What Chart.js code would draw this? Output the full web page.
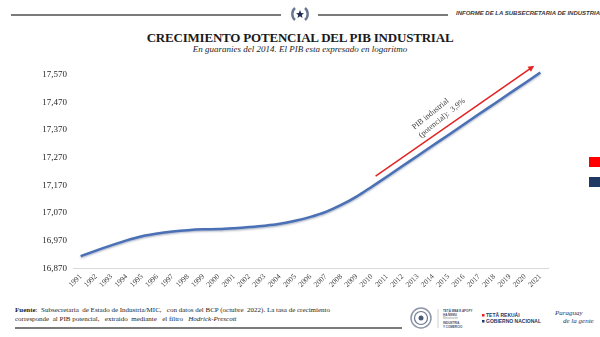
<!DOCTYPE html>
<html lang="es">
<head>
<meta charset="utf-8">
<title>Crecimiento potencial del PIB industrial</title>
<script src="https://cdn.jsdelivr.net/npm/chart.js@4.4.1/dist/chart.umd.min.js"></script>
<style>
  html, body { margin: 0; padding: 0; background: #fff; }
  #page { position: relative; width: 600px; height: 337px; overflow: hidden; background: #fff; }
  #rules { position: absolute; left: 0; top: 0; display: block; }
  .hr { position: absolute; height: 2px; background-color: #7a7a7a; }
  #header-text {
    position: absolute; left: 456px; top: 10px;
    font: italic bold 6px "Liberation Sans Narrow", "Liberation Sans", sans-serif;
    color: #3a3a3a; white-space: nowrap;
  }
  #title {
    position: absolute; left: 0; width: 600px; top: 30px; text-align: center;
    font: bold 13px "Liberation Serif", "Times New Roman", serif; color: #1a1a1a;
    letter-spacing: -0.2px;
  }
  #subtitle {
    position: absolute; left: 0; width: 600px; top: 44px; text-align: center;
    font: italic 9px "Liberation Serif", "Times New Roman", serif; color: #262626;
  }
  #chart-box { position: absolute; left: 0; top: 55px; width: 600px; height: 245px; }
  .tab { position: absolute; left: 589px; width: 11px; height: 10px; }
  #source {
    position: absolute; left: 15px; top: 306px;
    font: 7px "Liberation Serif", "Times New Roman", serif; color: #262626;
    line-height: 8.5px; white-space: pre;
  }
  #logos { position: absolute; left: 405px; top: 303px; }
</style>
</head>
<body>
<div id="page">
  <!-- seal between the header rules -->
  <svg id="rules" width="600" height="30" viewBox="0 0 600 30">
    <path d="M295 8 A8 8 0 0 0 295 20" fill="none" stroke="#6b7891" stroke-width="2.4"/>
    <path d="M305 8 A8 8 0 0 1 305 20" fill="none" stroke="#6b7891" stroke-width="2.4"/>
    <polygon points="300,10 301.2,13 304,13.2 301.8,15 302.5,18 300,16.3 297.5,18 298.2,15 296,13.2 298.8,13" fill="#1f2d4d"/>
  </svg>
  <div class="hr" style="left:11px; width:270px; top:14px;"></div>
  <div class="hr" style="left:318px; width:130px; top:14px;"></div>
  <div id="header-text">INFORME DE LA SUBSECRETARIA DE INDUSTRIA</div>

  <div id="title">CRECIMIENTO POTENCIAL DEL PIB INDUSTRIAL</div>
  <div id="subtitle">En guaranies del 2014. El PIB esta expresado en logaritmo</div>

  <div id="chart-box"><canvas id="pibChart"></canvas></div>

  <div class="tab" style="top:157px; background:#ff0000;"></div>
  <div class="tab" style="top:177px; background:#1f3864;"></div>

  <!-- footer -->
  <div id="source"><b>Fuente</b>:  Subsecretaria  de Estado de Industria/MIC,   con datos del BCP (octubre  2022). La tasa de crecimiento
corresponde  al PIB potencial,   extraido  mediante   el filtro   <i>Hodrick-Prescott</i></div>
  <div class="hr" style="left:15px; width:387px; top:327px;"></div>
  <svg id="logos" width="195" height="32" viewBox="0 0 195 32">
    <circle cx="16" cy="15" r="10" fill="none" stroke="#8c96a8" stroke-width="1.5"/>
    <circle cx="16" cy="15" r="6.5" fill="none" stroke="#6b7891" stroke-width="1.2"/>
    <circle cx="16" cy="15" r="2.5" fill="#4a5a78"/>
    <line x1="33" y1="6" x2="33" y2="25" stroke="#b0b0b0" stroke-width="0.6"/>
    <g font-family="Liberation Sans, sans-serif" font-weight="bold" font-size="3" fill="#3f4e6e">
      <text x="38" y="9">TETÃ MBA'E APOPY</text>
      <text x="38" y="12.5">HA ÑEMU</text>
      <text x="38" y="21">INDUSTRIA</text>
      <text x="38" y="24.5">Y COMERCIO</text>
    </g>
    <text x="38" y="16" font-family="Liberation Sans, sans-serif" font-size="2.6" fill="#8a8a8a">Ministerio de</text>
    <rect x="77" y="11" width="2.5" height="2.5" fill="#e02020"/>
    <rect x="77" y="17" width="2.5" height="2.5" fill="#1f3864"/>
    <g font-family="Liberation Sans, sans-serif" font-weight="bold" font-size="5" fill="#1f3864">
      <text x="81" y="13.6">TETÃ REKUÁI</text>
      <text x="81" y="19.6">GOBIERNO NACIONAL</text>
    </g>
    <g font-family="Liberation Serif, serif" font-style="italic" font-size="7" fill="#1f3864">
      <text x="150" y="12">Paraguay</text>
      <text x="158" y="20">de la gente</text>
    </g>
  </svg>
</div>

<script>
// PIB industrial potencial (log, guaraníes de 2014), 1991-2021
const years = [
  "1991", "1992", "1993", "1994", "1995", "1996", "1997", "1998", "1999", "2000",
  "2001", "2002", "2003", "2004", "2005", "2006", "2007", "2008", "2009", "2010",
  "2011", "2012", "2013", "2014", "2015", "2016", "2017", "2018", "2019", "2020",
  "2021",
];
const pibLog = [
  16.914, 16.934, 16.953, 16.971, 16.986, 16.996, 17.003, 17.008, 17.011, 17.012,
  17.015, 17.019, 17.024, 17.031, 17.042, 17.056, 17.074, 17.099, 17.129, 17.165,
  17.202, 17.240, 17.277, 17.315, 17.352, 17.390, 17.428, 17.465, 17.503, 17.540,
  17.578,
];
const yTicks = [16.87, 16.97, 17.07, 17.17, 17.27, 17.37, 17.47, 17.57];

// trend arrow, in (category index, log value)
const arrowFrom = { index: 19.25, value: 17.203 };
const arrowTo = { index: 29.6, value: 17.602 };
const arrowLabel = ["PIB industrial", "(potencial):  3,9%"];
const labelAt = { index: 21.7, value: 17.377 };

const fmtLog = (v) => v.toFixed(3).replace(".", ",");

// soft shadow under the series line
const lineShadow = {
  id: "lineShadow",
  beforeDatasetsDraw(chart) {
    const ctx = chart.ctx;
    ctx.save();
    ctx.shadowColor = "rgba(20, 40, 90, 0.35)";
    ctx.shadowBlur = 2;
    ctx.shadowOffsetY = 1.2;
  },
  afterDatasetsDraw(chart) {
    chart.ctx.restore();
  },
};

// red growth arrow + rotated label
const trendArrow = {
  id: "trendArrow",
  afterDraw(chart) {
    const { ctx, scales } = chart;
    const x1 = scales.x.getPixelForValue(arrowFrom.index);
    const y1 = scales.y.getPixelForValue(arrowFrom.value);
    const x2 = scales.x.getPixelForValue(arrowTo.index);
    const y2 = scales.y.getPixelForValue(arrowTo.value);
    const ang = Math.atan2(y2 - y1, x2 - x1);

    ctx.save();
    ctx.strokeStyle = "#e32222";
    ctx.fillStyle = "#e32222";
    ctx.lineWidth = 1.5;
    ctx.beginPath();
    ctx.moveTo(x1, y1);
    ctx.lineTo(x2 - 4 * Math.cos(ang), y2 - 4 * Math.sin(ang));
    ctx.stroke();
    ctx.beginPath();
    ctx.moveTo(x2, y2);
    ctx.lineTo(x2 - 6 * Math.cos(ang) + 3 * Math.sin(ang), y2 - 6 * Math.sin(ang) - 3 * Math.cos(ang));
    ctx.lineTo(x2 - 6 * Math.cos(ang) - 3 * Math.sin(ang), y2 - 6 * Math.sin(ang) + 3 * Math.cos(ang));
    ctx.closePath();
    ctx.fill();

    const lx = scales.x.getPixelForValue(labelAt.index);
    const ly = scales.y.getPixelForValue(labelAt.value);
    ctx.translate(lx, ly);
    ctx.rotate((-39 * Math.PI) / 180);
    ctx.fillStyle = "#404040";
    ctx.font = '8px "Liberation Serif", serif';
    ctx.textAlign = "left";
    ctx.textBaseline = "middle";
    arrowLabel.forEach((line, i) => ctx.fillText(line, 0, i * 10.5));
    ctx.restore();
  },
};

new Chart(document.getElementById("pibChart"), {
  type: "line",
  data: {
    labels: years,
    datasets: [
      {
        label: "PIB industrial potencial",
        data: pibLog,
        borderColor: "#4a70b6",
        borderWidth: 2.5,
        tension: 0.35,
        pointRadius: 0,
        fill: false,
      },
    ],
  },
  options: {
    responsive: true,
    maintainAspectRatio: false,
    animation: false,
    layout: { padding: { top: 9.3, right: 52, bottom: 3.7, left: 0 } },
    plugins: {
      legend: { display: false },
      tooltip: { enabled: false },
    },
    scales: {
      x: {
        offset: true,
        grid: { display: false, drawTicks: false },
        border: { display: true, color: "#d9d9d9", width: 1 },
        ticks: {
          autoSkip: false,
          minRotation: 45,
          maxRotation: 45,
          padding: 4,
          color: "#404040",
          font: { family: '"Liberation Serif", serif', size: 7.5 },
        },
        afterFit(scale) {
          scale.height = 28;
        },
      },
      y: {
        min: 16.87,
        max: 17.6,
        grid: { display: false, drawTicks: false },
        border: { display: false },
        afterBuildTicks(scale) {
          scale.ticks = yTicks.map((v) => ({ value: v }));
        },
        ticks: {
          padding: 6,
          color: "#262626",
          font: { family: '"Liberation Serif", serif', size: 9 },
          callback: (v) => fmtLog(v),
        },
        afterFit(scale) {
          scale.width = 73;
        },
      },
    },
  },
  plugins: [lineShadow, trendArrow],
});
</script>
</body>
</html>
